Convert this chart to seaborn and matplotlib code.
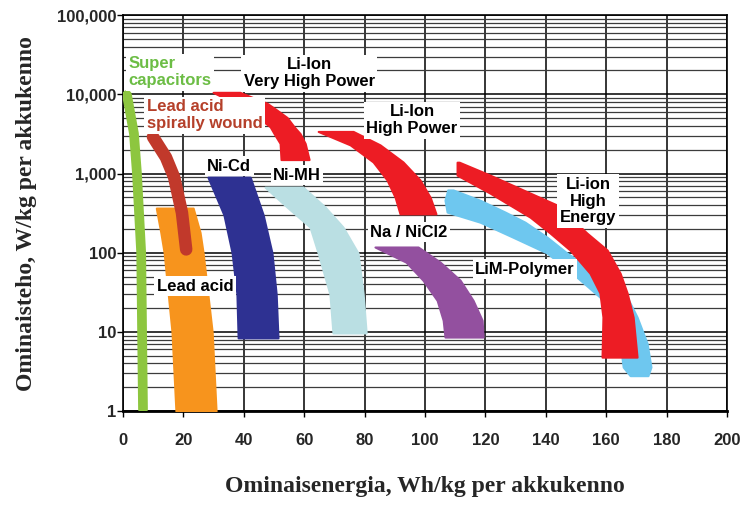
import matplotlib
matplotlib.use("Agg")
import matplotlib.pyplot as plt
from matplotlib.ticker import LogLocator, FixedLocator, FixedFormatter, NullFormatter
import seaborn as sns

# Ragone chart: specific energy (Wh/kg) vs specific power (W/kg)
supercap_power = [9800, 3200, 1000, 100, 10, 1.05]
supercap_energy = [1.3, 3.6, 4.6, 6.0, 6.3, 6.6]

spiral_power = [2900, 1600, 900, 320, 110]
spiral_energy = [9.9, 14.2, 16.9, 19.5, 20.9]

leadacid_power = [366, 180, 100, 10, 1]
leadacid_left = [11.0, 12.5, 13.6, 16.2, 17.5]
leadacid_right = [23.2, 25.5, 26.5, 29.5, 30.8]

nicd_power = [900, 300, 100, 30, 8.4]
nicd_left = [28.1, 33.4, 36.1, 37.7, 38.1]
nicd_right = [42.1, 46.4, 49.3, 50.7, 51.3]

nimh_power = [673, 377, 211, 99, 30, 9.7]
nimh_left = [47.0, 54.3, 61.9, 64.6, 68.5, 69.5]
nimh_right = [59.6, 66.9, 72.8, 77.8, 79.5, 80.5]

vhp_power = [10600, 7700, 6300, 5100, 3900, 3200, 2400, 1500]
vhp_left = [29.8, 37.1, 42.1, 44.7, 48.7, 50.0, 52.0, 52.3]
vhp_right = [38.7, 47.7, 51.0, 54.3, 56.6, 58.6, 60.3, 61.6]

hp_power = [3400, 2300, 1400, 830, 500, 310]
hp_left = [64.6, 75.2, 82.8, 87.4, 90.1, 91.7]
hp_right = [76.2, 85.1, 92.7, 98.3, 101.7, 103.6]

nacl_power = [118, 76, 45, 25, 14, 8.6]
nacl_left = [83.4, 93.7, 99.3, 104.0, 106.0, 106.6]
nacl_right = [97.7, 105.0, 111.6, 115.9, 118.9, 119.2]

lim_power = [620, 460, 326, 243, 157, 99, 49, 27.5, 15.4, 7.2, 3.6, 2.8]
lim_left = [107.5, 106.6, 107.3, 118.2, 129.1, 140.4, 150.3, 157.9, 161.9, 164.6, 165.6, 167.9]
lim_right = [109.3, 118.2, 126.5, 133.1, 140.4, 147.0, 158.9, 166.9, 170.2, 173.5, 174.8, 173.8]

he_power = [1390, 955, 566, 400, 281, 177, 108, 55, 31, 15.4, 4.8]
he_left = [110.6, 110.6, 121.5, 128.1, 134.8, 141.4, 148.0, 154.6, 157.9, 158.9, 158.6]
he_right = [111.3, 121.5, 134.8, 143.7, 148.0, 153.6, 160.3, 164.6, 166.9, 168.9, 170.2]

x_ticks = [0, 20, 40, 60, 80, 100, 120, 140, 160, 180, 200]
y_ticks = [1, 10, 100, 1000, 10000, 100000]
y_tick_labels = ["1", "10", "100", "1,000", "10,000", "100,000"]

labels = ["Super\ncapacitors", "Lead acid\nspirally wound", "Li-Ion\nVery High Power",
          "Li-Ion\nHigh Power", "Ni-Cd", "Ni-MH", "Li-ion\nHigh\nEnergy",
          "Na / NiCl2", "LiM-Polymer", "Lead acid"]

sns.set_style("white")
plt.rcParams["font.family"] = ["Liberation Sans", "DejaVu Sans"]

fig, ax = plt.subplots(figsize=(7.55, 5.05), dpi=100)
fig.subplots_adjust(left=0.163, right=0.963, bottom=0.186, top=0.970)

ax.set_yscale("log")
ax.set_xlim(0, 200)
ax.set_ylim(1, 100000)

# bands, drawn back to front
bands = [
    (leadacid_power, leadacid_left, leadacid_right, "#F7941D"),
    (nicd_power, nicd_left, nicd_right, "#2E3192"),
    (nimh_power, nimh_left, nimh_right, "#BADFE3"),
    (vhp_power, vhp_left, vhp_right, "#ED1C24"),
    (hp_power, hp_left, hp_right, "#ED1C24"),
    (nacl_power, nacl_left, nacl_right, "#93509F"),
    (lim_power, lim_left, lim_right, "#6EC7EF"),
    (he_power, he_left, he_right, "#ED1C24"),
]
for pw, lo, hi, col in bands:
    ax.fill_betweenx(pw, lo, hi, color=col, lw=1.5, edgecolor=col,
                     joinstyle="round", zorder=3)

sns.lineplot(x=supercap_energy, y=supercap_power, sort=False, estimator=None, ax=ax,
             color="#8DC63F", linewidth=7, solid_capstyle="round", zorder=4)
sns.lineplot(x=spiral_energy, y=spiral_power, sort=False, estimator=None, ax=ax,
             color="#C1392B", linewidth=9, solid_capstyle="round", zorder=4)

# grid
ax.yaxis.set_major_locator(FixedLocator(y_ticks))
ax.yaxis.set_major_formatter(FixedFormatter(y_tick_labels))
ax.yaxis.set_minor_locator(LogLocator(base=10, subs=range(2, 10), numticks=20))
ax.yaxis.set_minor_formatter(NullFormatter())
ax.set_xticks(x_ticks)
ax.set_axisbelow(True)
ax.grid(which="major", axis="both", color="black", lw=1.1)
ax.grid(which="minor", axis="y", color="#3c3c3c", lw=0.9)

ax.tick_params(which="major", direction="out", length=4, width=1, color="black",
               left=True, bottom=True, labelsize=12)
ax.tick_params(axis="x", pad=12)
ax.tick_params(axis="y", pad=1)
ax.tick_params(which="minor", length=0)
for t in ax.get_xticklabels() + ax.get_yticklabels():
    t.set_fontweight("bold")
for s in ax.spines.values():
    s.set_color("black")
    s.set_linewidth(1.2)
ax.spines["bottom"].set_linewidth(2)

# labels with white boxes
box = dict(facecolor="white", edgecolor="none", boxstyle="square,pad=0.15")
lab_pos = [(1.7, 19000, "left", "#6CBD45"), (7.9, 5460, "left", "#B5402A"),
           (61.6, 18500, "center", "black"), (95.7, 4720, "center", "black"),
           (35.1, 1240, "center", "black"), (57.6, 955, "center", "black"),
           (154.0, 448, "center", "black"), (94.7, 182, "center", "black"),
           (133.1, 62, "center", "black"), (23.8, 37.9, "center", "black")]
for txt, (x, y, ha, col) in zip(labels, lab_pos):
    ax.text(x, y, txt, ha=ha, va="center", color=col, fontsize=12, fontweight="bold",
            bbox=box, zorder=6, linespacing=1.15)

serif = ["Liberation Serif", "DejaVu Serif"]
ax.set_xlabel("Ominaisenergia, Wh/kg per akkukenno", family=serif, fontsize=17,
              fontweight="bold", labelpad=20)
ax.set_ylabel("Ominaisteho, W/kg per akkukenno", family=serif, fontsize=17,
              fontweight="bold", labelpad=14)

fig.savefig("out.png", dpi=100)
